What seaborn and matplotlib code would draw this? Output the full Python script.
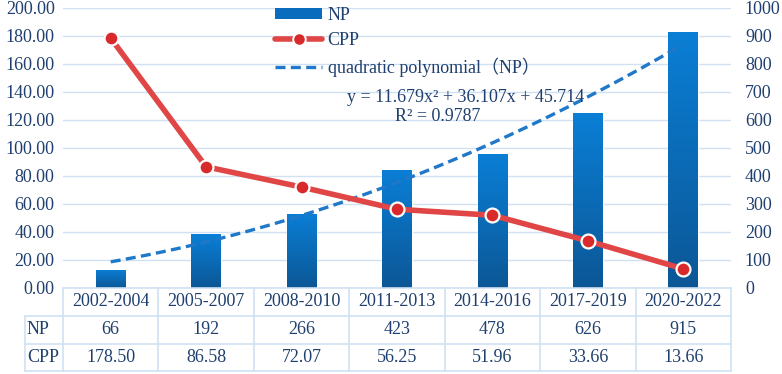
import numpy as np
import pandas as pd
import seaborn as sns
import matplotlib
matplotlib.use("Agg")
from matplotlib import pyplot as plt
from matplotlib import transforms
from matplotlib.patches import Patch
from matplotlib.lines import Line2D

# data
periods = ["2002-2004", "2005-2007", "2008-2010", "2011-2013", "2014-2016", "2017-2019", "2020-2022"]
np_counts = [66, 192, 266, 423, 478, 626, 915]
cpp_vals = [178.50, 86.58, 72.07, 56.25, 51.96, 33.66, 13.66]
cpp_labels = ["178.50", "86.58", "72.07", "56.25", "51.96", "33.66", "13.66"]

df = pd.DataFrame({"period": periods, "NP": np_counts, "CPP": cpp_vals})

sns.set_style("white")
plt.rcParams["font.family"] = ["Liberation Serif", "Noto Sans CJK SC"]
txt = "#1f3f6e"
grid_c = "#cfe1f3"
bar_c = "#0a6cbd"
red = "#e04646"
dash_c = "#1f78c8"

fig = plt.figure(figsize=(7.82, 3.74), dpi=100)
ax_r = fig.add_axes([63 / 782, 1 - 288 / 374, (731 - 63) / 782, 280 / 374])
ax_l = ax_r.twinx()
# left axis (CPP) on the left, drawn above the bars
ax_l.yaxis.tick_left()
ax_r.yaxis.tick_right()
ax_l.set_zorder(ax_r.get_zorder() + 1)
ax_l.patch.set_visible(False)

# bars: NP on the right axis
sns.barplot(data=df, x="period", y="NP", ax=ax_r, color=bar_c, width=0.31, saturation=1)

# vertical gradient on bars
grad = np.linspace(0, 1, 256).reshape(-1, 1)
cmap = matplotlib.colors.LinearSegmentedColormap.from_list("g", ["#0c5796", "#0a7fd6"])
for p in list(ax_r.patches):
    x0, y0 = p.get_x(), p.get_y()
    w, h = p.get_width(), p.get_height()
    im = ax_r.imshow(grad, extent=[x0, x0 + w, y0, y0 + h], origin="lower",
                     aspect="auto", cmap=cmap, zorder=p.get_zorder())
    im.set_clip_path(p)
ax_r.set_xlim(-0.5, 6.5)
ax_r.set_ylim(0, 1000)

# quadratic trendline for NP
coef = np.polyfit(np.arange(1, 8), np_counts, 2)
xs = np.linspace(1, 7, 100)
ax_r.plot(xs - 1, np.polyval(coef, xs), ls=(0, (3, 1.6)), color=dash_c, lw=2.4, zorder=4)

# CPP line on the left axis
sns.lineplot(data=df, x="period", y="CPP", ax=ax_l, color=red, lw=4,
             marker="o", markersize=10, markerfacecolor="#d82a2a",
             markeredgecolor="white", markeredgewidth=1.6, sort=False)
ax_l.set_ylim(0, 200)
ax_l.set_xlim(-0.5, 6.5)

# ticks and grid
ax_l.set_yticks(np.arange(0, 201, 20))
ax_l.set_yticklabels([f"{v:.2f}" for v in np.arange(0, 201, 20)])
ax_r.set_yticks(np.arange(0, 1001, 100))
ax_r.yaxis.grid(True, color=grid_c, lw=1)
ax_r.set_axisbelow(True)
ax_l.tick_params(axis="y", length=0, pad=6, labelsize=13, labelcolor=txt)
ax_r.tick_params(axis="y", length=0, pad=10, labelsize=13, labelcolor=txt)
for a in (ax_l, ax_r):
    a.set_xticks([])
    a.set_xlabel("")
    a.set_ylabel("")
    for s in a.spines.values():
        s.set_visible(False)

# data table below the plot
tr = transforms.blended_transform_factory(ax_r.transData, fig.transFigure)
def fy(py):
    return 1 - py / 374
lab_x = -0.5 - 38 / (668 / 7)
rows = [288, 316, 344, 371]
for i, py in enumerate(rows):
    x_start = -0.5 if i == 0 else lab_x
    fig.add_artist(Line2D([x_start, 6.5], [fy(py), fy(py)], transform=tr, color=grid_c, lw=1.2))
for k in range(8):
    xv = k - 0.5
    fig.add_artist(Line2D([xv, xv], [fy(288), fy(371)], transform=tr, color=grid_c, lw=1.2))
fig.add_artist(Line2D([lab_x, lab_x], [fy(316), fy(371)], transform=tr, color=grid_c, lw=1.2))

for i, per in enumerate(periods):
    fig.text(i, fy(302), per, transform=tr, ha="center", va="center", fontsize=13, color=txt)
    fig.text(i, fy(330), str(np_counts[i]), transform=tr, ha="center", va="center", fontsize=13, color=txt)
    fig.text(i, fy(357.5), cpp_labels[i], transform=tr, ha="center", va="center", fontsize=13, color=txt)
fig.text(27 / 782, fy(330), "NP", ha="left", va="center", fontsize=13, color=txt)
fig.text(27 / 782, fy(357.5), "CPP", ha="left", va="center", fontsize=13, color=txt)

# trendline equation
fig.text(466 / 782, fy(97), "y = 11.679x² + 36.107x + 45.714", ha="center", va="center",
         fontsize=13, color=txt)
fig.text(438 / 782, fy(117), "R² = 0.9787", ha="center", va="center", fontsize=13, color=txt)

# legend
handles = [Patch(facecolor=bar_c, edgecolor="none"),
           Line2D([], [], color=red, lw=4, marker="o", markersize=9,
                  markerfacecolor="#d82a2a", markeredgecolor="white", markeredgewidth=1.4),
           Line2D([], [], color=dash_c, lw=2.4, ls=(0, (3, 1.6)))]
leg = fig.legend(handles, ["NP", "CPP", "quadratic polynomial（NP）"], loc="upper left",
                 bbox_to_anchor=(268 / 782, 1 - 0 / 374), frameon=False, fontsize=13,
                 handlelength=2.6, handleheight=0.55, handletextpad=0.3,
                 labelspacing=0.45, borderaxespad=0)
for t in leg.get_texts():
    t.set_color(txt)

fig.savefig("out.png", dpi=100)
